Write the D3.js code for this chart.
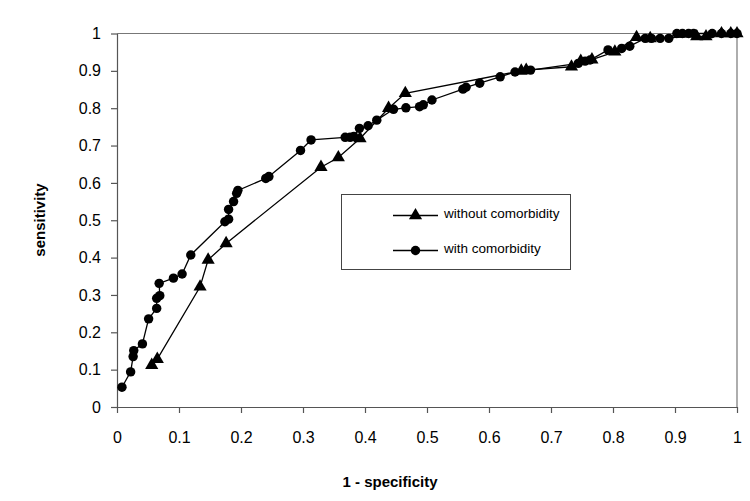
<!DOCTYPE html>
<html><head><meta charset="utf-8">
<script src="https://cdn.jsdelivr.net/npm/d3@7"></script>
<style>body{margin:0;background:#fff}svg{display:block}</style>
</head><body>
<svg id="c" width="750" height="501"></svg>
<script>
const xTicks = [0,0.1,0.2,0.3,0.4,0.5,0.6,0.7,0.8,0.9,1];
const yTicks = [0,0.1,0.2,0.3,0.4,0.5,0.6,0.7,0.8,0.9,1];
const seriesNames = ["without comorbidity","with comorbidity"];
const withoutFpr = [0.056,0.065,0.134,0.147,0.176,0.329,0.357,0.392,0.438,0.465,0.652,0.660,0.733,0.748,0.766,0.803,0.838,0.860,0.935,0.950,0.975,0.990,1.0];
const withoutTpr = [0.112,0.128,0.322,0.394,0.438,0.642,0.668,0.719,0.800,0.840,0.900,0.902,0.911,0.926,0.930,0.951,0.990,0.987,0.992,0.992,1.0,1.0,1.0];
const withFpr = [0.008,0.022,0.026,0.027,0.041,0.051,0.064,0.064,0.069,0.068,0.091,0.105,0.119,0.174,0.180,0.180,0.188,0.193,0.195,0.240,0.245,0.296,0.313,0.368,0.376,0.382,0.391,0.405,0.419,0.446,0.466,0.488,0.494,0.508,0.558,0.563,0.585,0.618,0.642,0.667,0.744,0.755,0.763,0.792,0.814,0.827,0.852,0.862,0.876,0.890,0.903,0.912,0.922,0.930,0.960,0.975,0.990,1.0];
const withTpr = [0.053,0.094,0.135,0.151,0.169,0.236,0.264,0.291,0.298,0.331,0.345,0.356,0.407,0.496,0.503,0.529,0.550,0.572,0.580,0.612,0.617,0.687,0.715,0.722,0.722,0.724,0.746,0.753,0.768,0.797,0.801,0.804,0.809,0.822,0.851,0.856,0.867,0.884,0.897,0.902,0.920,0.926,0.929,0.956,0.960,0.966,0.987,0.987,0.987,0.987,1.0,1.0,1.0,1.0,1.0,1.0,1.0,1.0];

const svg = d3.select("#c");
const L=117, R=737, T=33.5, B=407;
const x = d3.scaleLinear().domain([0,1]).range([L,R]);
const y = d3.scaleLinear().domain([0,1]).range([B,T]);
const font = "Liberation Sans, Arial, sans-serif";
const axisColor = "#555";

// frame top/right
svg.append("line").attr("x1",L).attr("x2",R).attr("y1",T).attr("y2",T).attr("stroke","#777").attr("stroke-width",1.2);
svg.append("line").attr("x1",R).attr("x2",R).attr("y1",T).attr("y2",B).attr("stroke","#777").attr("stroke-width",1.2);

const xa = svg.append("g").attr("transform",`translate(0,${B})`)
  .call(d3.axisBottom(x).tickValues(xTicks).tickFormat(d=>String(d)).tickSizeInner(6).tickSizeOuter(0).tickPadding(19));
const ya = svg.append("g").attr("transform",`translate(${L},0)`)
  .call(d3.axisLeft(y).tickValues(yTicks).tickFormat(d=>String(d)).tickSizeInner(6).tickSizeOuter(0).tickPadding(10));
[xa,ya].forEach(g=>{
  g.selectAll("path,line").attr("stroke",axisColor).attr("stroke-width",1.2);
  g.selectAll("text").attr("font-family",font).attr("font-size",16).attr("fill","#000");
});

svg.append("text").attr("x",390).attr("y",487).attr("text-anchor","middle")
  .attr("font-family",font).attr("font-weight","bold").attr("font-size",15).text("1 - specificity");
svg.append("text").attr("transform","translate(45,220) rotate(-90)").attr("text-anchor","middle")
  .attr("font-family",font).attr("font-weight","bold").attr("font-size",15).text("sensitivity");

const series = [
  {name:seriesNames[0], pts:withoutFpr.map((v,i)=>[v,withoutTpr[i]]), sym:d3.symbolTriangle, size:75},
  {name:seriesNames[1], pts:withFpr.map((v,i)=>[v,withTpr[i]]), sym:d3.symbolCircle, size:70}
];
const line = d3.line().x(d=>x(d[0])).y(d=>y(d[1]));
series.forEach(s=>{
  svg.append("path").attr("d",line(s.pts)).attr("fill","none").attr("stroke","#000").attr("stroke-width",1.3);
  svg.append("g").selectAll("path").data(s.pts).join("path")
    .attr("transform",d=>`translate(${x(d[0])},${y(d[1])})`)
    .attr("d",d3.symbol().type(s.sym).size(s.size)).attr("fill","#000");
});

// legend
const lg = svg.append("g");
lg.append("rect").attr("x",341.5).attr("y",194.5).attr("width",229).attr("height",75)
  .attr("fill","#fff").attr("stroke","#444").attr("stroke-width",1);
series.forEach((s,i)=>{
  const yy = 215.5 + i*35;
  lg.append("line").attr("x1",393).attr("x2",438).attr("y1",yy).attr("y2",yy).attr("stroke","#000").attr("stroke-width",1.3);
  lg.append("path").attr("transform",`translate(415.5,${yy})`).attr("d",d3.symbol().type(s.sym).size(s.size)).attr("fill","#000");
  lg.append("text").attr("x",444).attr("y",yy-1).attr("dominant-baseline","middle")
    .attr("font-family",font).attr("font-size",13.5).text(s.name);
});
</script>
</body></html>
